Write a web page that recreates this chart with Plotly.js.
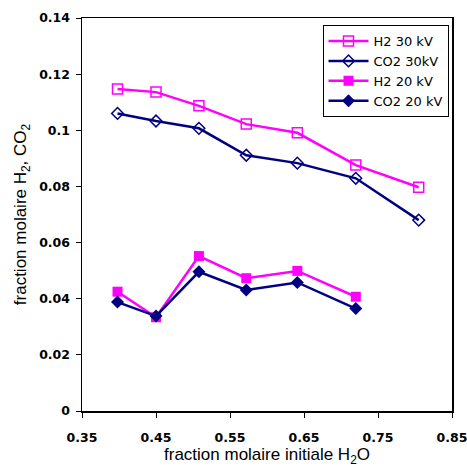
<!DOCTYPE html>
<html>
<head>
<meta charset="utf-8">
<script src="https://cdn.plot.ly/plotly-3.0.1.min.js"></script>
<style>html,body{margin:0;padding:0;background:#fff;}#chart{width:467px;height:467px;}</style>
</head>
<body>
<div id="chart"></div>
<script>
const x30 = [0.398, 0.450, 0.508, 0.572, 0.641, 0.720, 0.805];
const h2_30kV = [0.1147, 0.1136, 0.1087, 0.1022, 0.0991, 0.0876, 0.0797];
const co2_30kV = [0.1060, 0.1033, 0.1007, 0.0911, 0.0883, 0.0829, 0.0680];
const x20 = [0.398, 0.450, 0.508, 0.572, 0.641, 0.720];
const h2_20kV = [0.0425, 0.0334, 0.0552, 0.0473, 0.0499, 0.0407];
const co2_20kV = [0.0388, 0.0338, 0.0496, 0.0431, 0.0458, 0.0365];
const names = ["H2 30 kV", "CO2 30kV", "H2 20 kV", "CO2 20 kV"];
const xTicks = [0.35, 0.45, 0.55, 0.65, 0.75, 0.85];
const yTicks = [0, 0.02, 0.04, 0.06, 0.08, 0.1, 0.12, 0.14];
const yTickText = ["0", "0.02", "0.04", "0.06", "0.08", "0.1", "0.12", "0.14"];

const magenta = "#FF00FF", navy = "#000080";
const tickFont = {family: "DejaVu Sans, Verdana, sans-serif", size: 12.5, color: "#000", weight: 600};
const traces = [
  {x: x30, y: h2_30kV, name: names[0], mode: "lines+markers",
   line: {color: magenta, width: 2.5},
   marker: {symbol: "square-open", size: 10, color: magenta, line: {width: 1.5, color: magenta}}},
  {x: x30, y: co2_30kV, name: names[1], mode: "lines+markers",
   line: {color: navy, width: 2.5},
   marker: {symbol: "diamond-open", size: 9, color: navy, line: {width: 1.5, color: navy}}},
  {x: x20, y: h2_20kV, name: names[2], mode: "lines+markers",
   line: {color: magenta, width: 2.5},
   marker: {symbol: "square", size: 10, color: magenta}},
  {x: x20, y: co2_20kV, name: names[3], mode: "lines+markers",
   line: {color: navy, width: 2.5},
   marker: {symbol: "diamond", size: 10, color: navy}}
];

const layout = {
  width: 467, height: 467,
  margin: {l: 82, r: 15, t: 18, b: 56},
  paper_bgcolor: "#fff", plot_bgcolor: "#fff",
  font: {family: "DejaVu Sans, Verdana, sans-serif", color: "#000", size: 12},
  showlegend: true,
  legend: {x: 0.65, y: 0.982, xanchor: "left", yanchor: "top",
    bgcolor: "#fff", bordercolor: "#000", borderwidth: 1,
    font: {family: "DejaVu Sans, Verdana, sans-serif", size: 13, color: "#000"},
    tracegroupgap: 0, itemwidth: 40},
  xaxis: {range: [0.35, 0.85], tickvals: xTicks, ticktext: xTicks.map(v => v.toFixed(2)),
    showgrid: false, zeroline: false, showline: true, linecolor: "#000", linewidth: 1.5,
    mirror: true, ticks: "outside", ticklen: 5, tickcolor: "#000",
    ticklabelstandoff: 9, ticklabeloverflow: "allow",
    tickfont: tickFont,
    title: {text: "fraction molaire initiale H<sub>2</sub>O", standoff: 10,
      font: {family: "Liberation Sans, Arial, sans-serif", size: 17, color: "#000"}}},
  yaxis: {range: [0, 0.14], tickvals: yTicks, ticktext: yTickText,
    showgrid: false, zeroline: false, showline: true, linecolor: "#000", linewidth: 1.5,
    mirror: true, ticks: "outside", ticklen: 5, tickcolor: "#000",
    ticklabelstandoff: 3,
    tickfont: tickFont,
    title: {text: "fraction molaire H<sub>2</sub>, CO<sub>2</sub>", standoff: 8,
      font: {family: "Liberation Sans, Arial, sans-serif", size: 17, color: "#000"}}}
};

Plotly.newPlot("chart", traces, layout, {displayModeBar: false, staticPlot: true});
</script>
</body>
</html>
